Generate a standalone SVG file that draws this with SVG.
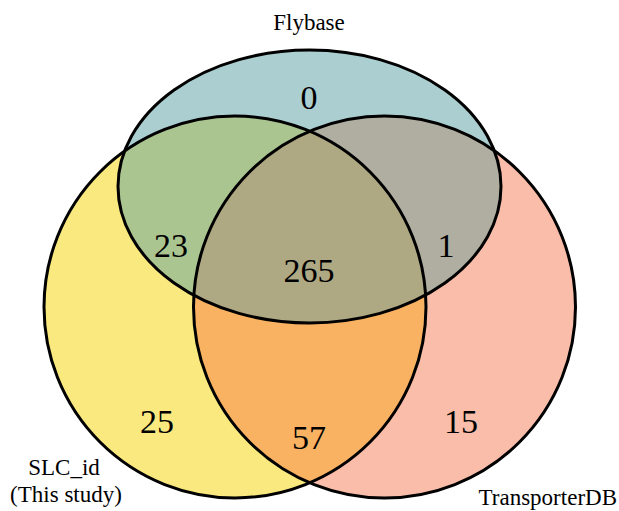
<svg xmlns="http://www.w3.org/2000/svg" width="619" height="511" viewBox="0 0 619 511">
<style>
.num{font-family:"Liberation Serif","Times New Roman",serif;font-size:34px;fill:#000;text-anchor:middle}
.lbl{font-family:"Liberation Serif","Times New Roman",serif;font-size:23px;fill:#000;text-anchor:middle}
.edge{fill:none;stroke:#000;stroke-width:3}
</style>
<defs>
<circle id="cL" cx="235" cy="307" r="191"/>
<circle id="cR" cx="384.5" cy="307" r="191"/>
<ellipse id="eF" cx="309.5" cy="186.5" rx="191.5" ry="136.5"/>
<clipPath id="clipL"><use href="#cL"/></clipPath>
<clipPath id="clipR"><use href="#cR"/></clipPath>
</defs>
<g id="fills">
<use href="#cL" fill="#f9e97f"/>
<use href="#cR" fill="#f9bda9"/>
<use href="#eF" fill="#abcfd1"/>
<g clip-path="url(#clipL)"><use href="#cR" fill="#f9b262"/><use href="#eF" fill="#abc591"/></g>
<g clip-path="url(#clipR)"><use href="#eF" fill="#afaea0"/></g>
<g clip-path="url(#clipL)"><g clip-path="url(#clipR)"><use href="#eF" fill="#afa983"/></g></g>
</g>
<g id="slc_id"><use href="#cL" class="edge"/><text class="lbl" x="64" y="475">SLC_id</text><text class="lbl" x="66" y="502">(This study)</text></g>
<g id="transporterdb"><use href="#cR" class="edge"/><text class="lbl" x="617" y="505" style="text-anchor:end">TransporterDB</text></g>
<g id="flybase"><use href="#eF" class="edge"/><text class="lbl" x="309" y="30">Flybase</text></g>
<g id="connectors"></g>
<g id="counts">
<text class="num" x="309" y="109">0</text>
<text class="num" x="171" y="257">23</text>
<text class="num" x="309" y="282">265</text>
<text class="num" x="446" y="257">1</text>
<text class="num" x="157" y="433">25</text>
<text class="num" x="309" y="449">57</text>
<text class="num" x="461" y="433">15</text>
</g>
</svg>
